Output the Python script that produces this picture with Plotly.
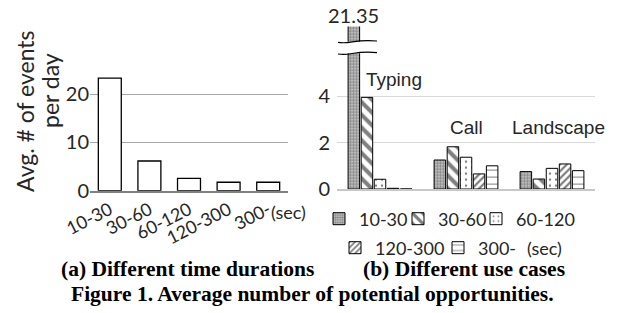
import plotly.graph_objects as go

# ---- data ----
dur_categories = ["10-30", "30-60", "60-120", "120-300", "300-"]
dur_values = [23.3, 6.15, 2.55, 1.75, 1.75]

use_cases = ["Typing", "Call", "Landscape"]
series_names = ["10-30", "30-60", "60-120", "120-300", "300-"]
series_values = {
    "10-30":   [21.35, 1.25, 0.75],
    "30-60":   [3.95, 1.82, 0.43],
    "60-120":  [0.42, 1.37, 0.89],
    "120-300": [0.03, 0.65, 1.08],
    "300-":    [0.0, 1.00, 0.79],
}
typing_peak_label = "21.35"

# ---- styles ----
W, H = 624, 313
TICKFONT = "Lato"
patterns = {
    "10-30":   dict(shape=".", size=3, solidity=0.6, fgcolor="#3a3a3a", bgcolor="#cfcfcf"),
    "30-60":   dict(shape="\\", size=9, solidity=0.45, fgcolor="black", bgcolor="white"),
    "60-120":  dict(shape=".", size=6, solidity=0.12, fgcolor="black", bgcolor="white"),
    "120-300": dict(shape="/", size=5, solidity=0.45, fgcolor="black", bgcolor="white"),
    "300-":    dict(shape="-", size=7, solidity=0.15, fgcolor="black", bgcolor="white"),
}
# legend text positions (px) : (text-left x, row-centre y)
legend_pos = {
    "10-30": (359, 219), "30-60": (438, 219), "60-120": (516, 219),
    "120-300": (375, 248), "300-": (478, 248),
}


def px_x(p):
    return p / W


def px_y(p):
    return 1 - p / H


fig = go.Figure()

# left chart
fig.add_trace(go.Bar(
    x=dur_categories, y=dur_values, xaxis="x", yaxis="y",
    width=0.58, marker=dict(color="white", line=dict(color="black", width=1.3)),
    showlegend=False,
))

legend_layouts = {}
for i, name in enumerate(series_names):
    lid = "legend" if i == 0 else f"legend{i + 1}"
    fig.add_trace(go.Bar(
        x=use_cases, y=series_values[name], name=name, xaxis="x2", yaxis="y2",
        marker=dict(color="white", line=dict(color="black", width=1),
                    pattern=patterns[name]),
        legend=lid,
    ))
    tx, ty = legend_pos[name]
    legend_layouts[lid] = dict(
        orientation="h", x=px_x(tx - 40), y=px_y(ty), xanchor="left", yanchor="middle",
        bgcolor="rgba(0,0,0,0)", font=dict(size=18, family=TICKFONT, color="#262626"),
        itemwidth=30,
    )

fig.update_layout(
    width=W, height=H,
    margin=dict(l=0, r=0, t=0, b=0, autoexpand=False),
    paper_bgcolor="white", plot_bgcolor="white",
    barmode="group", bargap=0.24, bargroupgap=0.12,
    font=dict(family=TICKFONT, size=18, color="#262626"),
    xaxis=dict(domain=[px_x(90), px_x(288)], range=[-0.5, 4.5],
               showline=True, linecolor="#808080", linewidth=2,
               tickangle=-27, tickfont=dict(size=18, family=TICKFONT),
               ticks="", showgrid=False, anchor="y", automargin=False),
    yaxis=dict(domain=[px_y(190.7), px_y(70)], range=[0, 25],
               tickvals=[0, 10, 20], showgrid=True, gridcolor="#a6a6a6",
               gridwidth=1, zeroline=False, showline=False, automargin=False,
               tickfont=dict(size=20, family=TICKFONT), anchor="x"),
    xaxis2=dict(domain=[px_x(337), px_x(595)], range=[-0.5, 2.5],
                showline=True, linecolor="#c8c8c8", linewidth=2, automargin=False,
                showticklabels=False, ticks="", showgrid=False, anchor="y2"),
    yaxis2=dict(domain=[px_y(189), px_y(26.6)], range=[0, 7],
                tickvals=[0, 2, 4], showgrid=True, gridcolor="#d9d9d9",
                gridwidth=1, zeroline=False, showline=False, automargin=False,
                ticklabelstandoff=6,
                tickfont=dict(size=20, family=TICKFONT), anchor="x2"),
    **legend_layouts,
)

TXT = dict(family=TICKFONT, color="#262626")
ann = []
# left y title (two lines)
ann.append(dict(text="Avg. # of events", x=px_x(25), y=px_y(111), xref="paper", yref="paper",
                xanchor="center", yanchor="middle",
                textangle=-90, showarrow=False, font=dict(size=23, **TXT)))
ann.append(dict(text="per day", x=px_x(50), y=px_y(91), xref="paper", yref="paper",
                xanchor="center", yanchor="middle",
                textangle=-90, showarrow=False, font=dict(size=23, **TXT)))
# (sec) labels
ann.append(dict(text="(sec)", x=px_x(288.5), y=px_y(212), xref="paper", yref="paper",
                xanchor="center", yanchor="middle",
                showarrow=False, font=dict(size=18, **TXT)))
ann.append(dict(text="(sec)", x=px_x(544), y=px_y(248), xref="paper", yref="paper",
                xanchor="center", yanchor="middle",
                showarrow=False, font=dict(size=18, **TXT)))
# use case labels
LBL = dict(size=19, family="Liberation Sans", color="#262626")
ann.append(dict(text="Typing", x=0, y=4.7, xref="x2", yref="y2", xshift=14,
                xanchor="center", showarrow=False, font=LBL))
ann.append(dict(text="Call", x=1, y=2.63, xref="x2", yref="y2",
                xanchor="center", showarrow=False, font=LBL))
ann.append(dict(text="Landscape", x=2, y=2.63, xref="x2", yref="y2", xshift=6,
                xanchor="center", showarrow=False, font=LBL))
# peak label above broken bar
group_w = 1 - 0.24
first_off = -2 * group_w / 5
ann.append(dict(text=typing_peak_label, x=first_off, y=7, xref="x2", yref="y2",
                xanchor="center", yanchor="bottom", showarrow=False, yshift=-2,
                font=dict(size=20, **TXT)))
# captions
CAP = dict(size=21.5, family="Liberation Serif", color="black")
ann.append(dict(text="<b>(a) Different time durations</b>", x=px_x(187), y=px_y(268.5),
                xref="paper", yref="paper", xanchor="center", yanchor="middle",
                showarrow=False, font=CAP))
ann.append(dict(text="<b>(b) Different use cases</b>", x=px_x(464), y=px_y(268.5),
                xref="paper", yref="paper", xanchor="center", yanchor="middle",
                showarrow=False, font=CAP))
ann.append(dict(text="<b>Figure 1. Average number of potential opportunities.</b>", x=px_x(312),
                y=px_y(293.5), xref="paper", yref="paper", xanchor="center", yanchor="middle",
                showarrow=False, font=CAP))
fig.update_layout(annotations=ann)

# axis break on the Typing 10-30 bar
y_lo, y_hi = 5.85, 6.35
bx0, bx1 = 0.004, 0.155
shapes = [
    dict(type="rect", xref="x2 domain", yref="y2", x0=0.02, x1=0.12, y0=y_lo, y1=y_hi,
         fillcolor="white", line=dict(width=0), layer="above"),
]
for yy in (y_lo, y_hi):
    d = 0.12
    shapes.append(dict(
        type="path", xref="x2 domain", yref="y2", layer="above",
        path=f"M {bx0},{yy - 0.03} C {bx0 + 0.05},{yy - d} {bx1 - 0.09},{yy + d} {bx1},{yy + 0.03}",
        line=dict(color="black", width=1.2),
    ))
fig.update_layout(shapes=shapes)

fig.write_html("out.html", config={"displayModeBar": False},
               post_script="document.body.style.margin='0px';")
